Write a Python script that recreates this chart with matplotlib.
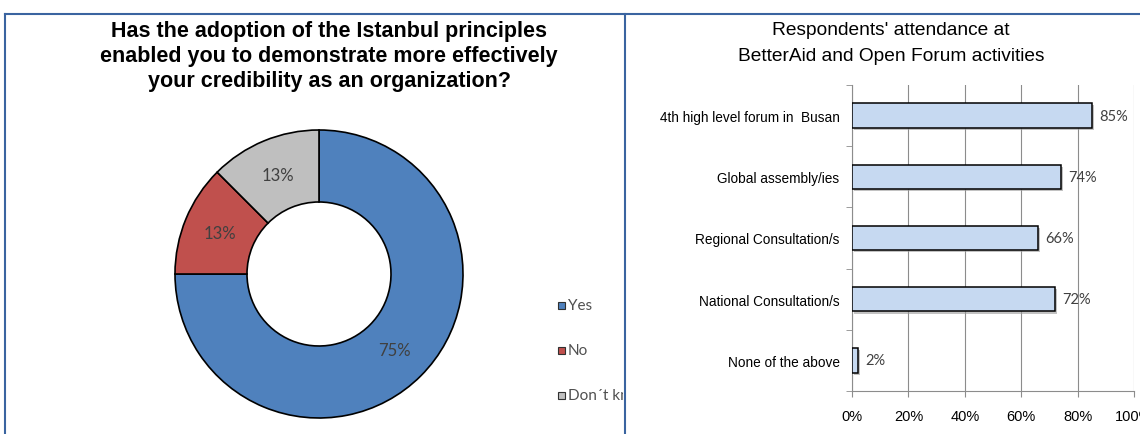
import matplotlib
matplotlib.use("Agg")
import matplotlib.pyplot as plt
from matplotlib.patches import Rectangle
from matplotlib.transforms import Bbox
import matplotlib.patheffects as pe

# ---- data ----
pie_labels = ["Yes", "No", "Don\u00b4t know"]
pie_values = [75, 12.5, 12.5]
pie_texts = ["75%", "13%", "13%"]
pie_colors = ["#4F81BD", "#C0504D", "#BFBFBF"]

bar_categories = ["4th high level forum in  Busan", "Global assembly/ies",
                  "Regional Consultation/s", "National Consultation/s",
                  "None of the above"]
bar_values = [85, 74, 66, 72, 2]
x_ticks = [0, 20, 40, 60, 80, 100]
x_tick_labels = ["0%", "20%", "40%", "60%", "80%", "100%"]

W, H = 1140, 435
fig = plt.figure(figsize=(W / 100, H / 100), dpi=100)
fig.patch.set_facecolor("white")

def fx(x):
    return x / W

def fy(y):
    return 1 - y / H

border_col = "#3A64A0"
# panel borders
fig.add_artist(plt.Line2D([fx(5), fx(623)], [fy(14.5), fy(14.5)], color=border_col, lw=1.5))
fig.add_artist(plt.Line2D([fx(5), fx(5)], [fy(14.5), fy(436)], color=border_col, lw=1.5))
fig.add_artist(plt.Line2D([fx(625), fx(1141)], [fy(14.5), fy(14.5)], color=border_col, lw=1.5))
fig.add_artist(plt.Line2D([fx(625), fx(625)], [fy(14.5), fy(436)], color=border_col, lw=1.5))

# ---- left: donut ----
title_font = ["Liberation Sans", "DejaVu Sans"]
fig.text(fx(329), fy(56.5), "Has the adoption of the Istanbul principles\n"
         "enabled you to demonstrate more effectively\n"
         "your credibility as an organization?",
         ha="center", va="center", fontsize=15.5, fontweight="bold", family=title_font,
         linespacing=1.25, color="black")

cx, cy, r = 319, 275, 144
axp = fig.add_axes([fx(cx - r), fy(cy + r), (2 * r) / W, (2 * r) / H])
wedges, texts = axp.pie(pie_values, colors=pie_colors, startangle=90, counterclock=False,
                        radius=1.0, labels=pie_texts, labeldistance=0.745,
                        wedgeprops=dict(width=0.5, edgecolor="black", linewidth=1.2),
                        textprops=dict(fontsize=12, color="#404040", family=["Lato", "DejaVu Sans"],
                                       ha="center", va="center"))
for t in texts:
    t.set_ha("center")
    t.set_va("center")
axp.set_xlim(-1, 1)
axp.set_ylim(-1, 1)
axp.set_aspect("equal")
axp.axis("off")

clipbox = Bbox.from_extents(0, 0, 623, H)
leg_y = [306, 351, 396]
for lab, col, yy in zip(pie_labels, pie_colors, leg_y):
    fig.add_artist(Rectangle((fx(557.5), fy(yy + 3.5)), 7 / W, 7 / H, facecolor=col,
                             edgecolor="#303030", lw=0.8, transform=fig.transFigure))
    t = fig.text(fx(567.5), fy(yy), lab, ha="left", va="center", fontsize=11,
                 family=["Lato", "DejaVu Sans"], color="#505050")
    t.set_clip_box(clipbox)
    t.set_clip_on(True)

# ---- right: bar chart ----
fig.text(fx(891), fy(43.5), "Respondents' attendance at\nBetterAid and Open Forum activities",
         ha="center", va="center", fontsize=13.8, family=title_font, linespacing=1.7,
         color="black")

x0, x1, y0, y1 = 852, 1134, 86, 392
axb = fig.add_axes([fx(x0), fy(y1), (x1 - x0) / W, (y1 - y0) / H])
n = len(bar_categories)
pos = list(range(n))
bars = axb.barh(pos, bar_values, height=0.4, color="#C6D9F1", edgecolor="black",
                linewidth=1.1, zorder=3)
for b in bars:
    b.set_path_effects([pe.SimplePatchShadow(offset=(1.5, -1.5), shadow_rgbFace="#9a9a9a", alpha=0.6),
                        pe.Normal()])
axb.set_ylim(n - 0.5, -0.5)
axb.set_xlim(0, 100)
axb.set_xticks(x_ticks)
axb.set_xticklabels(x_tick_labels, family=["Liberation Sans", "DejaVu Sans"], fontsize=10.5)
axb.set_yticks(pos)
narrow = ["Liberation Sans Narrow", "Liberation Sans", "DejaVu Sans"]
axb.set_yticklabels(bar_categories, family=narrow, fontsize=9.8)
axb.set_yticks([i - 0.5 for i in range(n + 1)], minor=True)
axb.tick_params(axis="y", which="major", length=0, pad=9)
axb.tick_params(axis="y", which="minor", length=4, color="#8c8c8c", direction="out")
axb.tick_params(axis="x", which="major", length=4, color="#8c8c8c", direction="out", pad=9)
axb.grid(axis="x", color="#8c8c8c", lw=0.8, zorder=0)
for s in ["top", "right"]:
    axb.spines[s].set_visible(False)
for s in ["left", "bottom"]:
    axb.spines[s].set_color("#8c8c8c")
    axb.spines[s].set_linewidth(0.8)
for p, v in zip(pos, bar_values):
    axb.text(v + 2.6, p, f"{v}%", ha="left", va="center", fontsize=10.5,
             family=["Lato", "DejaVu Sans"], color="#404040")

fig.savefig("out.png", dpi=100, facecolor="white")
